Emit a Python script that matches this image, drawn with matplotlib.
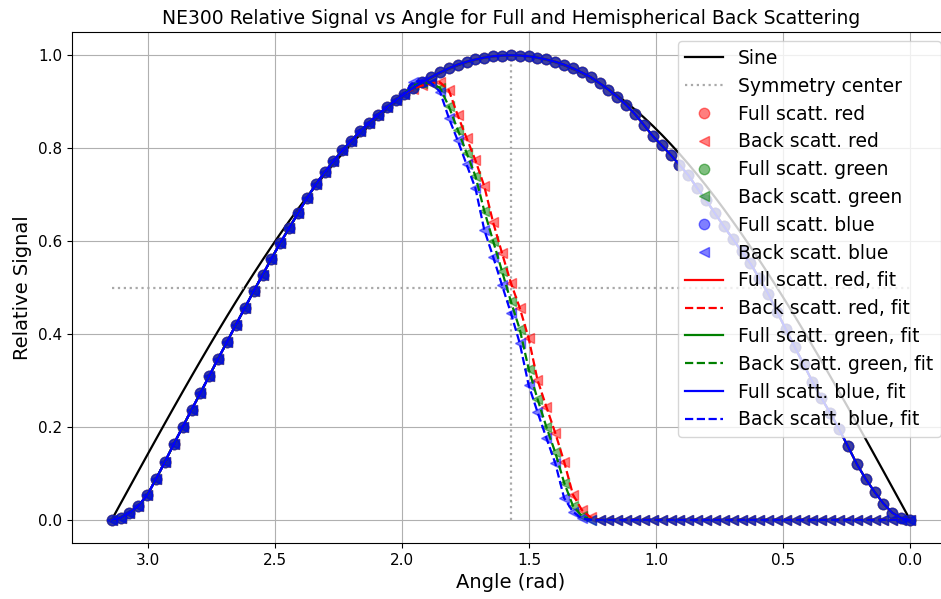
import numpy as np
import matplotlib
matplotlib.use("Agg")
import matplotlib.pyplot as plt

# angle grid of the measurements, 2 degree steps from 0 to 180
angle_deg = np.arange(0, 182, 2)

# full scattering signal (same for the three colours within reading accuracy)
full_signal = [
    0.000, 0.004, 0.015, 0.035, 0.060, 0.088, 0.120, 0.158, 0.195, 0.230,
    0.262, 0.297, 0.335, 0.372, 0.410, 0.448, 0.487, 0.520, 0.552, 0.578,
    0.605, 0.632, 0.660, 0.688, 0.714, 0.742, 0.764, 0.786, 0.806, 0.826,
    0.850, 0.873, 0.893, 0.910, 0.926, 0.940, 0.953, 0.963, 0.972, 0.980,
    0.986, 0.991, 0.995, 0.998, 0.9995, 1.000,
    0.9995, 0.998, 0.995, 0.991, 0.986, 0.980, 0.972, 0.963, 0.953, 0.942,
    0.930, 0.917, 0.903, 0.888, 0.872, 0.855, 0.836, 0.816, 0.795, 0.772,
    0.748, 0.722, 0.692, 0.660, 0.628, 0.596, 0.562, 0.527, 0.492, 0.456,
    0.420, 0.383, 0.347, 0.310, 0.273, 0.237, 0.200, 0.163, 0.125, 0.088,
    0.053, 0.030, 0.015, 0.004, 0.000,
]

# back scattering, falling edge from 72 to 112 degrees
back_red_edge = [0.005, 0.021, 0.054, 0.125, 0.187, 0.243, 0.301, 0.391, 0.456, 0.510,
                 0.574, 0.640, 0.718, 0.774, 0.822, 0.871, 0.925, 0.942, 0.940, 0.935, 0.928]
back_green_edge = [0.000, 0.008, 0.030, 0.080, 0.145, 0.200, 0.260, 0.325, 0.410, 0.470,
                   0.535, 0.600, 0.665, 0.740, 0.790, 0.840, 0.890, 0.930, 0.940, 0.940, 0.935]
back_blue_edge = [0.000, 0.003, 0.017, 0.047, 0.122, 0.176, 0.232, 0.290, 0.380, 0.445,
                  0.505, 0.566, 0.624, 0.714, 0.765, 0.817, 0.865, 0.922, 0.940, 0.945, 0.943]

# below 72 deg the back signal is zero, above 112 deg it follows the full signal
back_red = [0.0] * 36 + back_red_edge + full_signal[57:]
back_green = [0.0] * 36 + back_green_edge + full_signal[57:]
back_blue = [0.0] * 36 + back_blue_edge + full_signal[57:]

x = np.deg2rad(angle_deg)

fig = plt.figure(figsize=(9.41, 5.99), dpi=100)
ax = fig.add_axes([0.0765, 0.0935, 0.933, 0.853])

ax.plot(x, np.sin(x), color='black', lw=1.6, label='Sine')
ax.plot([np.pi / 2, np.pi / 2], [0, 1], ':', color='darkgray', lw=1.6, label='Symmetry center')
ax.plot([np.pi, 0], [0.5, 0.5], ':', color='darkgray', lw=1.6)

ms = 7.5
ax.plot(x, full_signal, 'o', color='red', alpha=0.5, ms=ms, label='Full scatt. red')
ax.plot(x, back_red, '<', color='red', alpha=0.5, ms=ms, label='Back scatt. red')
ax.plot(x, full_signal, 'o', color='green', alpha=0.5, ms=ms, label='Full scatt. green')
ax.plot(x, back_green, '<', color='green', alpha=0.5, ms=ms, label='Back scatt. green')
ax.plot(x, full_signal, 'o', color='blue', alpha=0.5, ms=ms, label='Full scatt. blue')
ax.plot(x, back_blue, '<', color='blue', alpha=0.5, ms=ms, label='Back scatt. blue')

ax.plot(x, full_signal, '-', color='red', lw=1.6, label='Full scatt. red, fit')
ax.plot(x, back_red, '--', color='red', lw=1.6, label='Back scatt. red, fit')
ax.plot(x, full_signal, '-', color='green', lw=1.6, label='Full scatt. green, fit')
ax.plot(x, back_green, '--', color='green', lw=1.6, label='Back scatt. green, fit')
ax.plot(x, full_signal, '-', color='blue', lw=1.6, label='Full scatt. blue, fit')
ax.plot(x, back_blue, '--', color='blue', lw=1.6, label='Back scatt. blue, fit')

ax.set_xlim(3.298, -0.157)
ax.set_ylim(-0.05, 1.05)
ax.grid(True)
ax.tick_params(labelsize=11)
ax.set_xlabel('Angle (rad)', fontsize=14)
ax.set_ylabel('Relative Signal', fontsize=14)
ax.set_title('NE300 Relative Signal vs Angle for Full and Hemispherical Back Scattering', fontsize=13.5)
ax.legend(loc='upper right', fontsize=13.5, labelspacing=0.47)

fig.savefig('out.png', dpi=100)
